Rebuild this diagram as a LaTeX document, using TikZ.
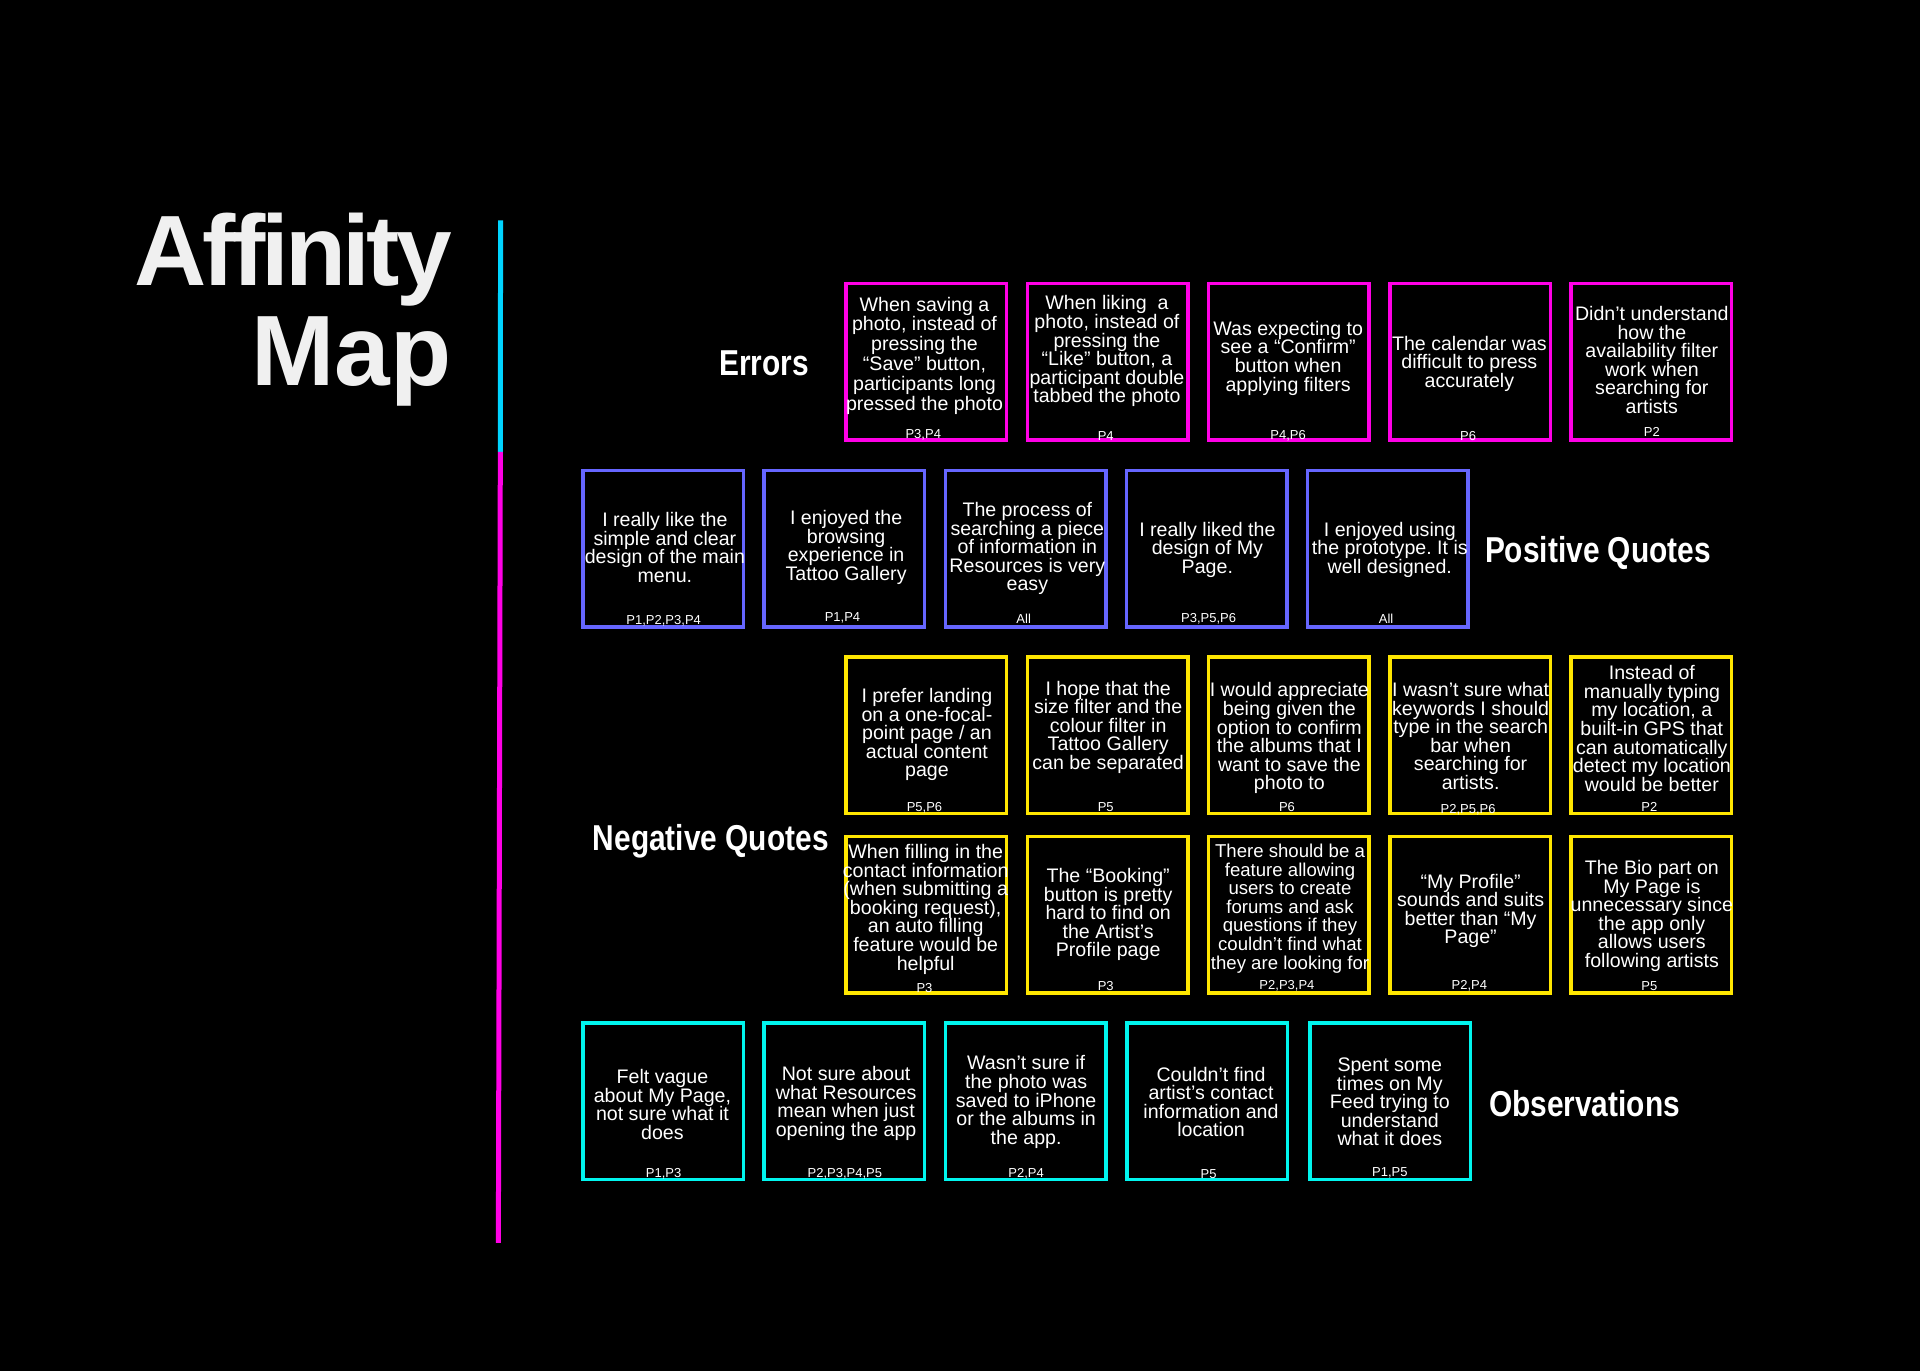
\documentclass[tikz,border=0pt]{standalone}
\usepackage{fontspec}
\setmainfont{Liberation Sans}
\newfontfamily\titlefont[LetterSpace=-3.9]{Liberation Sans Bold}
\newfontfamily\mapfont{Liberation Sans Bold}
\newfontfamily\groupfont[FakeStretch=0.83]{Liberation Sans Bold}
\definecolor{errorcol}{HTML}{FF00E6}
\definecolor{positivecol}{HTML}{6666FF}
\definecolor{negativecol}{HTML}{FFE600}
\definecolor{observecol}{HTML}{00F5EE}
\definecolor{barcol}{HTML}{00D4FF}
\definecolor{titlecol}{HTML}{F0F0F0}

\begin{document}
\frenchspacing
\begin{tikzpicture}
[x=1.2245pt,y=-1.2245pt,%
  card/.style={draw,line width=3.5pt,inner sep=0pt,minimum width=160.5pt,minimum height=156.5pt},%
  quote/.style={text=white,align=center,inner sep=0pt,yshift=-1.2pt,font=\fontsize{19.6}{18.6}\selectfont},%
  longquote/.style={quote,yshift=-1pt,font=\fontsize{19.6}{19.8}\selectfont},%
  smallquote/.style={quote,font=\fontsize{18.6}{18.6}\selectfont},%
  tag/.style={text=white,inner sep=0pt,yshift=-1.2pt,font=\fontsize{13}{13}\selectfont},%
  group/.style={text=white,inner sep=0pt,font=\groupfont\fontsize{36}{36}\selectfont},%
  bar/.style={line width=5pt}]
\fill[black] (0,0) rectangle (1568,1119.63);
\draw[bar,barcol] (408.8,180) -- (408.6,369);
\draw[bar,errorcol] (408.6,369) -- (407,1015);
%%
\node[text=titlecol,align=right,anchor=north east,inner sep=0pt,
  font=\fontsize{100}{100}\selectfont] (title) at (369,173.5) {{\titlefont Affinity}\\{\mapfont Map}};
%%
\node[group] (errors) at (624,297) {Errors};
\node[group] (positive) at (1305,452) {Positive Quotes};
\node[group] (negative) at (580.5,687) {Negative Quotes};
\node[group] (observations) at (1294,901) {Observations};
%%
\foreach \cardName/\cardX in {e1/756.5, e2/904.5, e3/1052.5, e4/1200.5, e5/1348.5}
{
  \node[card,errorcol] (\cardName) at (\cardX,295.5) {};
}
\foreach \cardName/\cardX in {p1/541.5, p2/689.5, p3/837.5, p4/985.5, p5/1133.5}
{
  \node[card,positivecol] (\cardName) at (\cardX,448) {};
}
\foreach \cardName/\cardX in {n1/756.5, n2/904.5, n3/1052.5, n4/1200.5, n5/1348.5}
{
  \node[card,negativecol] (\cardName) at (\cardX,600.5) {};
}
\foreach \cardName/\cardX in {m1/756.5, m2/904.5, m3/1052.5, m4/1200.5, m5/1348.5}
{
  \node[card,negativecol] (\cardName) at (\cardX,747) {};
}
\foreach \cardName/\cardX in {o1/541.5, o2/689.5, o3/837.5, o4/986, o5/1135.5}
{
  \node[card,observecol] (\cardName) at (\cardX,899.5) {};
}
%%
\node[longquote] (e1q) at (755,288.5) {When saving a\\photo, instead of\\pressing the\\“Save” button,\\participants long\\pressed the photo};
\node[quote] (e2q) at (904,286) {When liking\ \ a\\photo, instead of\\pressing the\\“Like” button, a\\participant double\\tabbed the photo};
\node[quote] (e3q) at (1052,291.5) {Was expecting to\\see a “Confirm”\\button when\\applying filters};
\node[quote] (e4q) at (1200,296) {The calendar was\\difficult to press\\accurately};
\node[quote] (e5q) at (1349,293) {Didn’t understand\\how the\\availability filter\\work when\\searching for\\artists};
\node[tag] (e1t) at (754,354) {P3,P4};
\node[tag] (e2t) at (903,355) {P4};
\node[tag] (e3t) at (1052,355) {P4,P6};
\node[tag] (e4t) at (1199,355) {P6};
\node[tag] (e5t) at (1349,352) {P2};
%%
\node[quote] (p1q) at (543,446) {I really like the\\simple and clear\\design of the main\\menu.};
\node[quote] (p2q) at (691,446) {I enjoyed the\\browsing\\experience in\\Tattoo Gallery};
\node[quote] (p3q) at (839,447) {The process of\\searching a piece\\of information in\\Resources is very\\easy};
\node[quote] (p4q) at (986,448) {I really liked the\\design of My\\Page.};
\node[quote] (p5q) at (1135,448) {I enjoyed using\\the prototype. It is\\well designed.};
\node[tag] (p1t) at (542,506) {P1,P2,P3,P4};
\node[tag] (p2t) at (688,504) {P1,P4};
\node[tag] (p3t) at (836,504) {All};
\node[tag] (p4t) at (987,504) {P3,P5,P6};
\node[tag] (p5t) at (1132,504) {All};
%%
\node[quote] (n1q) at (757,599) {I prefer landing\\on a one-focal-\\point page / an\\actual content\\page};
\node[quote] (n2q) at (905,593) {I hope that the\\size filter and the\\colour filter in\\Tattoo Gallery\\can be separated};
\node[quote] (n3q) at (1053,602) {I would appreciate\\being given the\\option to confirm\\the albums that I\\want to save the\\photo to};
\node[quote] (n4q) at (1201,600) {I wasn’t sure what\\keywords I should\\type in the search\\bar when\\searching for\\artists.};
\node[quote] (n5q) at (1349,594) {Instead of\\manually typing\\my location, a\\built-in GPS that\\can automatically\\detect my location\\would be better};
\node[tag] (n1t) at (755,659) {P5,P6};
\node[tag] (n2t) at (903,658) {P5};
\node[tag] (n3t) at (1051,658) {P6};
\node[tag] (n4t) at (1199,660) {P2,P5,P6};
\node[tag] (n5t) at (1347,658) {P2};
%%
\node[quote] (m1q) at (756,741.5) {When filling in the\\contact information\\(when submitting a\\booking request),\\an auto filling\\feature would be\\helpful};
\node[quote] (m2q) at (905,746) {The “Booking”\\button is pretty\\hard to find on\\the Artist’s\\Profile page};
\node[smallquote] (m3q) at (1053.5,741) {There should be a\\feature allowing\\users to create\\forums and ask\\questions if they\\couldn’t find what\\they are looking for};
\node[quote] (m4q) at (1201,743) {“My Profile”\\sounds and suits\\better than “My\\Page”};
\node[quote] (m5q) at (1349,747) {The Bio part on\\My Page is\\unnecessary since\\the app only\\allows users\\following artists};
\node[tag] (m1t) at (755,806) {P3};
\node[tag] (m2t) at (903,804) {P3};
\node[tag] (m3t) at (1051,804) {P2,P3,P4};
\node[tag] (m4t) at (1200,804) {P2,P4};
\node[tag] (m5t) at (1347,804) {P5};
%%
\node[quote] (o1q) at (541,901) {Felt vague\\about My Page,\\not sure what it\\does};
\node[quote] (o2q) at (691,900) {Not sure about\\what Resources\\mean when just\\opening the app};
\node[quote] (o3q) at (838,899) {Wasn’t sure if\\the photo was\\saved to iPhone\\or the albums in\\the app.};
\node[quote] (o4q) at (989,899) {Couldn’t find\\artist’s contact\\information and\\location};
\node[quote] (o5q) at (1135,899) {Spent some\\times on My\\Feed trying to\\understand\\what it does};
\node[tag] (o1t) at (542,958) {P1,P3};
\node[tag] (o2t) at (690,958) {P2,P3,P4,P5};
\node[tag] (o3t) at (838,958) {P2,P4};
\node[tag] (o4t) at (987,958) {P5};
\node[tag] (o5t) at (1135,957) {P1,P5};
\end{tikzpicture}
\end{document}
